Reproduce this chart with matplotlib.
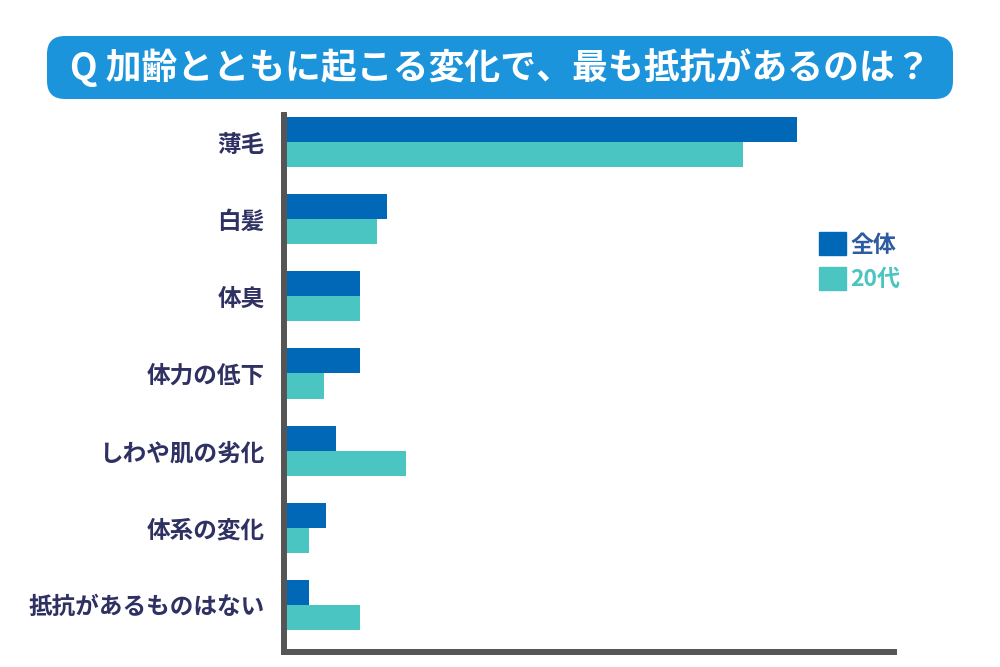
import matplotlib
matplotlib.use("Agg")
import matplotlib.pyplot as plt
import numpy as np
from matplotlib.patches import FancyBboxPatch, Patch

plt.rcParams['font.family'] = ['Noto Sans CJK JP', 'DejaVu Sans']

# data (%)
categories = ["薄毛", "白髪", "体臭", "体力の低下", "しわや肌の劣化", "体系の変化", "抵抗があるものはない"]
series_names = ["全体", "20代"]
all_ages = [20.9, 4.1, 3.0, 3.0, 2.0, 1.6, 0.9]
twenties = [18.7, 3.7, 3.0, 1.5, 4.9, 0.9, 3.0]
title = "Q 加齢とともに起こる変化で、最も抵抗があるのは？"

blue = "#0068B7"
teal = "#4BC5C2"
navy = "#2E3162"
spine_gray = "#555555"
title_bg = "#1C94DB"

fig = plt.figure(figsize=(10, 6.67), dpi=100)
ax = fig.add_axes([0.284, 0.0225, 0.610, 0.805])

y = np.arange(len(categories))
h = 0.325
ax.barh(y - h / 2, all_ages, height=h, color=blue, label=series_names[0], zorder=3)
ax.barh(y + h / 2, twenties, height=h, color=teal, label=series_names[1], zorder=3)

ax.set_xlim(-0.12, 24.88)
ax.set_ylim(6.61, -0.35)
ax.set_yticks(y)
ax.set_yticklabels(categories, fontsize=17, fontweight="bold", color=navy)
ax.tick_params(axis="y", length=0, pad=14)
ax.set_xticks([])

for side in ("top", "right"):
    ax.spines[side].set_visible(False)
for side in ("left", "bottom"):
    ax.spines[side].set_color(spine_gray)
    ax.spines[side].set_linewidth(4.3)
ax.spines["bottom"].set_capstyle("projecting")

# legend
handles = [Patch(color=blue), Patch(color=teal)]
leg = fig.legend(handles, series_names, loc="upper left",
                 bbox_to_anchor=(0.808, 1 - 221 / 667), frameon=False,
                 fontsize=16.5, handlelength=1.15, handleheight=1.15,
                 handletextpad=0.2, labelspacing=0.45, borderpad=0)
for t, c in zip(leg.get_texts(), ["#2D5AA0", teal]):
    t.set_color(c)
    t.set_fontweight("bold")

# title box
box = FancyBboxPatch((0.059, 1 - 99 / 667 + 0.018), 0.882, 63 / 667 - 0.036,
                     boxstyle="round,pad=0.012,rounding_size=0.018",
                     transform=fig.transFigure, facecolor=title_bg, edgecolor="none",
                     mutation_aspect=1.5)
fig.patches.append(box)
fig.text(0.5, 1 - 68 / 667, title, ha="center", va="center", color="white",
         fontsize=25.8, fontweight="bold")

fig.savefig("out.png", dpi=100)
